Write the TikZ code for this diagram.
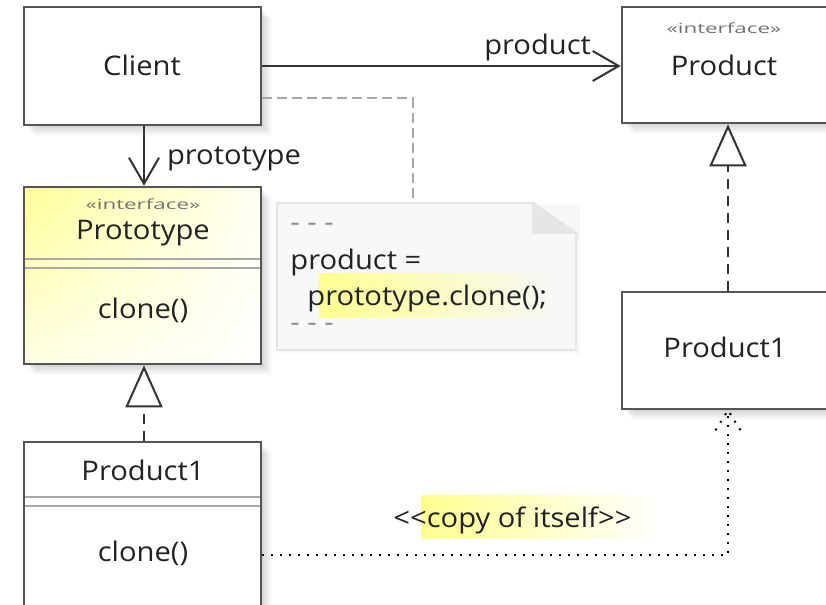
\documentclass[tikz,border=0pt]{standalone}
\usepackage{fontspec}
\setmainfont[FakeStretch=1.08]{Open Sans}
\newfontfamily\stereofont[FakeStretch=1.6]{Open Sans}
\usetikzlibrary{arrows.meta,fit,calc,shadings}
\definecolor{boxc}{HTML}{555555}
\definecolor{sepc}{HTML}{A8A8A8}
\definecolor{txt}{HTML}{222222}
\definecolor{notefill}{HTML}{F8F8F8}
\definecolor{noteline}{HTML}{E6E6E6}
\definecolor{hiyel}{HTML}{FFFF90}
\definecolor{yUL}{HTML}{FFFF99}
\definecolor{yUR}{HTML}{FFFFF4}
\definecolor{yLL}{HTML}{FFFEE4}
\newcommand\softshadow[4]{\foreach \s in {1.5,3,...,10.5}{\fill[black,opacity=0.025] (#1+\s,#2+\s) rectangle (#3+\s,#4+\s);}}
\begin{document}
\begin{tikzpicture}[x=0.5pt,y=-0.5pt,
  box/.style={draw=boxc, line width=1.3pt, inner sep=0pt},
  lbl/.style={text=txt, font=\fontsize{13.5}{16}\selectfont, inner sep=0pt},
  stereo/.style={text=black!55, font=\stereofont\fontsize{7}{8}\selectfont, inner sep=0pt},
  sep/.style={draw=sepc, line width=1pt},
  conn/.style={draw=black!80, line width=1pt},
  assoc/.style={conn, -{Straight Barb[length=13pt,width=15pt,line width=1pt]}},
  realize/.style={conn, dash pattern=on 5pt off 3.5pt, -{Triangle[length=21pt,width=18.5pt,fill=white,line width=1pt]}},
  dotline/.style={draw=black, line width=1pt, dash pattern=on 1pt off 3.5pt},
  notedash/.style={draw=black!35, line width=1pt, dash pattern=on 5pt off 2.5pt}]
\useasboundingbox (0,0) rectangle (826,605);
\clip (0,0) rectangle (826,605);
\fill[white] (0,0) rectangle (826,605);

% shadows
\softshadow{24}{7}{261}{125}
\softshadow{622}{7}{830}{123}
\softshadow{24}{187}{261}{364}
\softshadow{622}{292}{830}{409}
\softshadow{24}{442}{261}{610}

% note
\node[fit={(277,203)(576,350)}, inner sep=0pt] (note) {};
\fill[black,opacity=0.03] (279,205) rectangle (580,354);
\filldraw[fill=notefill, draw=noteline, line width=1pt] (277,203) -- (533,203) -- (576,233) -- (576,350) -- (277,350) -- cycle;
\filldraw[fill=noteline, draw=noteline, line width=1pt] (533,203) -- (533,233) -- (576,233) -- cycle;
\shade[left color=hiyel, right color=notefill] (319,273) rectangle (558,317);

% boxes
\fill[white] (24,7) rectangle (261,125);
\node[box, fit={(24,7)(261,125)}] (client) {};
\fill[white] (622,7) rectangle (830,123);
\node[box, fit={(622,7)(830,123)}] (product) {};
\shade[upper left=yUL, upper right=yUR, lower left=yLL, lower right=white] (24,187) rectangle (261,364);
\node[box, fit={(24,187)(261,364)}] (proto) {};
\fill[white] (622,292) rectangle (830,409);
\node[box, fit={(622,292)(830,409)}] (p1r) {};
\fill[white] (24,442) rectangle (261,610);
\node[box, fit={(24,442)(261,610)}] (p1l) {};

% separators
\draw[sep] (25,259) -- (260,259);
\draw[sep] (25,268) -- (260,268);
\draw[sep] (25,497) -- (260,497);
\draw[sep] (25,506) -- (260,506);

% texts
\node[lbl] (tclient) at (142,65) {Client};
\node[stereo] (tpst) at (724,28) {«interface»};
\node[lbl] (tprod) at (724,65) {Product};
\node[stereo] (tprst) at (143,204) {«interface»};
\node[lbl] (tproto) at (143,233) {Prototype};
\node[lbl] (tclone1) at (143,310) {clone()};
\node[lbl] (tp1l) at (143,470) {Product1};
\node[lbl] (tclone2) at (143,553) {clone()};
\node[lbl] (tp1r) at (725,347) {Product1};

% note texts
\node[lbl, text=black!45, anchor=west] (n1) at (290,227) {- - -};
\node[lbl, anchor=west] (n2) at (290,262) {product =};
\node[lbl, anchor=west] (n3) at (307,298) {prototype.clone();};
\node[lbl, text=black!45, anchor=west] (n4) at (290,327) {- - -};

% connectors
\draw[assoc] (client.east) -- (product.west |- client.east) node[lbl, anchor=south east, pos=0.92, yshift=2pt] (lprod) {product};
\draw[assoc] (client.south -| 144,0) -- (proto.north -| 144,0) node[lbl, anchor=west, pos=0.55, xshift=11pt] (lproto) {prototype};
\draw[realize] (p1r.north -| 728,0) -- (product.south -| 728,0);
\draw[realize] (p1l.north -| 144,0) -- (proto.south -| 144,0);
\draw[notedash] ([yshift=14pt]client.south east) -| ([xshift=-6.75pt]note.north);

% dotted dependency
\shade[left color=hiyel, right color=white] (421,495) rectangle (660,538);
\node[lbl, anchor=west] (lcopy) at (393,520) {{<}{<}copy of itself{>}{>}};
\coordinate (corner) at (728,555);
\draw[dotline] (p1l.east |- corner) -- (corner) -- (p1r.south -| corner);
\draw[dotline] ([xshift=-6.25pt,yshift=-10pt]p1r.south -| corner) -- (p1r.south -| corner) -- ([xshift=6.25pt,yshift=-10pt]p1r.south -| corner);
\end{tikzpicture}
\end{document}
